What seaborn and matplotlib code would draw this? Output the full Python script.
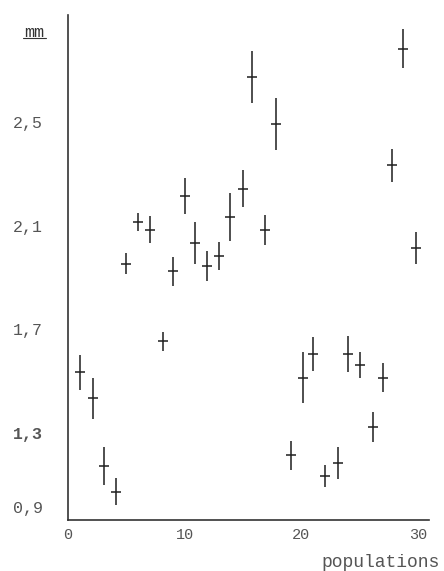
import matplotlib
matplotlib.use("Agg")
import matplotlib.pyplot as plt
import seaborn as sns
import pandas as pd
from matplotlib.lines import Line2D

# ---- data ----
population = [1.0, 2.1, 3.1, 4.1, 5.0, 6.0, 7.0, 8.1, 9.0, 10.0,
              10.9, 11.9, 12.9, 13.9, 15.0, 15.8, 16.9, 17.8, 19.1, 20.1,
              21.0, 22.0, 23.1, 24.0, 25.0, 26.1, 27.0, 27.8, 28.7, 29.8]
mean_mm = [1.47, 1.37, 1.11, 1.01, 1.89, 2.05, 2.02, 1.59, 1.86, 2.15,
           1.97, 1.88, 1.92, 2.07, 2.18, 2.61, 2.02, 2.43, 1.15, 1.45,
           1.54, 1.07, 1.12, 1.54, 1.50, 1.26, 1.45, 2.27, 2.72, 1.95]
err_mm = [0.068, 0.080, 0.073, 0.054, 0.040, 0.035, 0.052, 0.037, 0.056, 0.070,
          0.081, 0.058, 0.055, 0.093, 0.070, 0.100, 0.058, 0.100, 0.056, 0.097,
          0.066, 0.044, 0.060, 0.070, 0.050, 0.058, 0.056, 0.064, 0.075, 0.062]
xtick_values = [0, 10, 20, 30]
xtick_labels = ["0", "10", "20", "30"]
ytick_values = [1.3, 1.7, 2.1, 2.5]
ylabel_values = [2.5, 2.1, 1.7, 1.3, 0.9]
ylabel_texts = ["2,5", "2,1", "1,7", "1,3", "0,9"]

df = pd.DataFrame({"population": population, "mean": mean_mm, "err": err_mm})

sns.set_style("white")
plt.rcParams["font.family"] = ["Liberation Mono", "DejaVu Sans Mono"]

ink = "#1e1e1e"
txt = "#555555"

fig = plt.figure(figsize=(4.44, 5.71), dpi=100)
ax = fig.add_axes([68 / 444, 1 - 520 / 571, 361 / 444, 505 / 571])

ax.errorbar(df["population"], df["mean"], yerr=df["err"], fmt="none",
            ecolor=ink, elinewidth=1.1, capsize=0)
sns.scatterplot(data=df, x="population", y="mean", marker="_", s=45,
                color=ink, linewidth=1.1, ax=ax, legend=False)

ax.set_xlim(0, 30.93)
ax.set_ylim(0.9, 2.85)

for s in ["top", "right"]:
    ax.spines[s].set_visible(False)
for s in ["left", "bottom"]:
    ax.spines[s].set_color("#333333")
    ax.spines[s].set_linewidth(1.2)

ax.set_xticks(xtick_values)
ax.set_xticklabels(xtick_labels)
ax.tick_params(axis="x", direction="in", length=14, width=1.2, color="#333333",
               pad=6, labelsize=11, labelcolor=txt)
ax.set_yticks(ytick_values)
ax.set_yticklabels([])
ax.tick_params(axis="y", direction="in", length=8.5, width=1.2, color="#333333")

trans = ax.get_yaxis_transform()
for v, t in zip(ylabel_values, ylabel_texts):
    yv = v - 0.07 if v > 1.0 else v + 0.045
    ax.text(-0.11, yv, t, transform=trans, ha="center", va="center",
            fontsize=12, color=txt,
            fontweight="bold" if t == "1,3" else "normal")

ax.set_xlabel("populations", fontsize=13, color=txt, ha="center", va="center")
ax.xaxis.set_label_coords(0.867, -0.085)
ax.set_ylabel("mm", rotation=0, fontsize=12, color="#333333", ha="center", va="center")
ax.yaxis.set_label_coords(-0.094, 0.966)
fig.add_artist(Line2D([23 / 444, 46 / 444], [1 - 38 / 571, 1 - 38 / 571],
                      color="#333333", linewidth=0.8))

fig.savefig("out.png", dpi=100)
